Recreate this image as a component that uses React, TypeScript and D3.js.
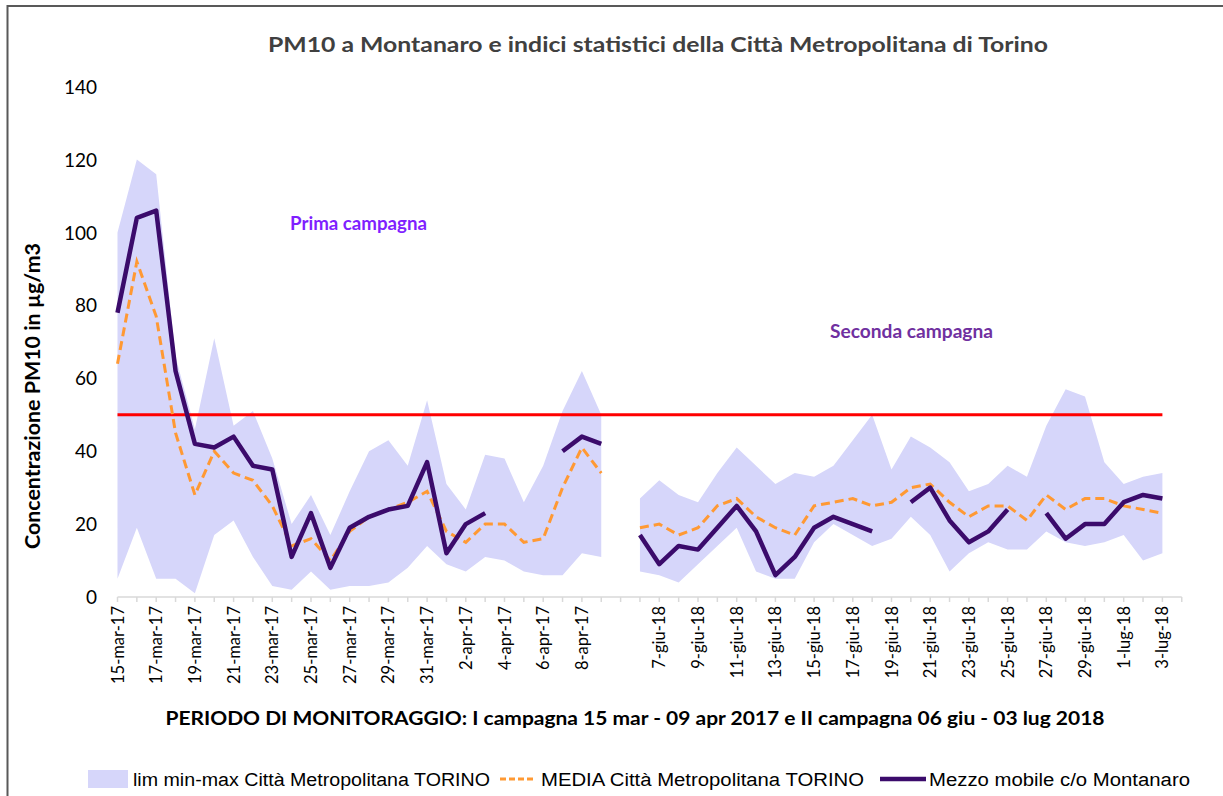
import React, { useEffect, useRef } from "react";
import * as d3 from "d3";

// categories: I campagna (15 mar - 9 apr 2017), empty slot, II campagna (6 giu - 3 lug 2018)
const categories = [
  "15-mar-17", "16-mar-17", "17-mar-17", "18-mar-17", "19-mar-17", "20-mar-17", "21-mar-17",
  "22-mar-17", "23-mar-17", "24-mar-17", "25-mar-17", "26-mar-17", "27-mar-17", "28-mar-17",
  "29-mar-17", "30-mar-17", "31-mar-17", "1-apr-17", "2-apr-17", "3-apr-17", "4-apr-17",
  "5-apr-17", "6-apr-17", "7-apr-17", "8-apr-17", "9-apr-17",
  "",
  "6-giu-18", "7-giu-18", "8-giu-18", "9-giu-18", "10-giu-18", "11-giu-18", "12-giu-18",
  "13-giu-18", "14-giu-18", "15-giu-18", "16-giu-18", "17-giu-18", "18-giu-18", "19-giu-18",
  "20-giu-18", "21-giu-18", "22-giu-18", "23-giu-18", "24-giu-18", "25-giu-18", "26-giu-18",
  "27-giu-18", "28-giu-18", "29-giu-18", "30-giu-18", "1-lug-18", "2-lug-18", "3-lug-18",
];

// lim min-max Città Metropolitana TORINO
const maxTorino = [
  100, 120, 116, 66, 46, 71, 47, 51, 38, 20, 28, 17, 29, 40, 43, 36, 54, 31, 24, 39, 38, 26, 36, 51, 62, 50,
  null,
  27, 32, 28, 26, 34, 41, 36, 31, 34, 33, 36, 43, 50, 35, 44, 41, 37, 29, 31, 36, 33, 47, 57, 55, 37, 31, 33, 34,
];
const minTorino = [
  5, 19, 5, 5, 1, 17, 21, 11, 3, 2, 7, 2, 3, 3, 4, 8, 14, 9, 7, 11, 10, 7, 6, 6, 12, 11,
  null,
  7, 6, 4, 9, 14, 19, 7, 5, 5, 15, 20, 17, 14, 16, 22, 17, 7, 12, 15, 13, 13, 18, 15, 14, 15, 17, 10, 12,
];
// MEDIA Città Metropolitana TORINO
const mediaTorino = [
  64, 92, 77, 45, 28, 40, 34, 32, 25, 14, 16, 10, 18, 22, 24, 26, 29, 18, 15, 20, 20, 15, 16, 30, 41, 34,
  null,
  19, 20, 17, 19, 25, 27, 22, 19, 17, 25, 26, 27, 25, 26, 30, 31, 26, 22, 25, 25, 21, 28, 24, 27, 27, 25, 24, 23,
];
// Mezzo mobile c/o Montanaro
const montanaro = [
  78, 104, 106, 62, 42, 41, 44, 36, 35, 11, 23, 8, 19, 22, 24, 25, 37, 12, 20, 23, null, null, null, 40, 44, 42,
  null,
  17, 9, 14, 13, 19, 25, 18, 6, 11, 19, 22, 20, 18, null, 26, 30, 21, 15, 18, 24, null, 23, 16, 20, 20, 26, 28, 27,
];

const LIMIT = 50;
const yTicks = [0, 20, 40, 60, 80, 100, 120, 140];

const W = 1223;
const H = 796;
const FONT = "Lato, 'Open Sans', sans-serif";

const App = () => {
  const svgRef = useRef(null);

  useEffect(() => {
    const svg = d3.select(svgRef.current);
    svg.selectAll("*").remove();

    const idx = d3.range(categories.length);
    const x = d3.scalePoint().domain(idx).range([117.5, 1162.4]);
    const y = d3.scaleLinear().domain([0, 140]).range([597, 86.7]);
    const step = x.step();

    // frame
    svg.append("path")
      .attr("d", `M7.5,${H} V6 H${W}`)
      .attr("fill", "none")
      .attr("stroke", "#595959")
      .attr("stroke-width", 2);

    // title
    svg.append("text")
      .attr("x", 658).attr("y", 52)
      .attr("text-anchor", "middle")
      .attr("font-family", FONT).attr("font-weight", "bold").attr("font-size", 20.5)
      .attr("fill", "#404040")
      .attr("textLength", 780).attr("lengthAdjust", "spacingAndGlyphs")
      .text("PM10 a Montanaro e indici statistici della Città Metropolitana di Torino");

    // band min-max
    const area = d3.area()
      .defined(i => maxTorino[i] != null)
      .x(i => x(i))
      .y0(i => y(minTorino[i]))
      .y1(i => y(maxTorino[i]));
    svg.append("path")
      .attr("d", area(idx))
      .attr("fill", "#D6D6FA");

    // limit line
    const limitLine = d3.line().x(i => x(i)).y(() => y(LIMIT));
    svg.append("path")
      .attr("d", limitLine(idx))
      .attr("fill", "none")
      .attr("stroke", "#FF0000")
      .attr("stroke-width", 3);

    // media
    const mediaLine = d3.line()
      .defined(i => mediaTorino[i] != null)
      .x(i => x(i))
      .y(i => y(mediaTorino[i]));
    svg.append("path")
      .attr("d", mediaLine(idx))
      .attr("fill", "none")
      .attr("stroke", "#FF9933")
      .attr("stroke-width", 3)
      .attr("stroke-dasharray", "9,5");

    // montanaro
    const montLine = d3.line()
      .defined(i => montanaro[i] != null)
      .x(i => x(i))
      .y(i => y(montanaro[i]));
    svg.append("path")
      .attr("d", montLine(idx))
      .attr("fill", "none")
      .attr("stroke", "#3B0B6B")
      .attr("stroke-width", 4.5)
      .attr("stroke-linejoin", "round");

    // x axis
    const x0 = x(0);
    const x1 = x(categories.length - 1) + step;
    svg.append("line")
      .attr("x1", x0).attr("x2", x1)
      .attr("y1", 597).attr("y2", 597)
      .attr("stroke", "#D9D9D9").attr("stroke-width", 1.5);
    svg.selectAll(".tick")
      .data(d3.range(categories.length + 1))
      .enter()
      .append("line")
      .attr("x1", k => x0 + k * step).attr("x2", k => x0 + k * step)
      .attr("y1", 597).attr("y2", 602)
      .attr("stroke", "#D9D9D9").attr("stroke-width", 1.5);

    svg.selectAll(".xlab")
      .data(idx.filter(i => i % 2 === 0))
      .enter()
      .append("text")
      .attr("transform", i => `translate(${x(i) + 6},606) rotate(-90)`)
      .attr("text-anchor", "end")
      .attr("font-family", FONT).attr("font-size", 16.5)
      .attr("fill", "#000")
      .text(i => categories[i]);

    // y labels
    svg.selectAll(".ylab")
      .data(yTicks)
      .enter()
      .append("text")
      .attr("x", 97).attr("y", v => y(v) + 7)
      .attr("text-anchor", "end")
      .attr("font-family", FONT).attr("font-size", 19)
      .attr("fill", "#000")
      .text(v => v);

    svg.append("text")
      .attr("transform", "translate(40,396) rotate(-90)")
      .attr("text-anchor", "middle")
      .attr("font-family", FONT).attr("font-weight", "bold").attr("font-size", 20)
      .attr("fill", "#000")
      .attr("textLength", 306).attr("lengthAdjust", "spacingAndGlyphs")
      .text("Concentrazione PM10 in µg/m3");

    svg.append("text")
      .attr("x", 635).attr("y", 725)
      .attr("text-anchor", "middle")
      .attr("font-family", FONT).attr("font-weight", "bold").attr("font-size", 18.5)
      .attr("fill", "#000")
      .attr("textLength", 939).attr("lengthAdjust", "spacingAndGlyphs")
      .text("PERIODO DI MONITORAGGIO: I campagna 15 mar - 09 apr 2017 e II campagna 06 giu - 03 lug 2018");

    // campaign notes
    svg.append("text")
      .attr("x", 290).attr("y", 230)
      .attr("font-family", FONT).attr("font-weight", "bold").attr("font-size", 18)
      .attr("fill", "#7F1FFF")
      .attr("textLength", 137).attr("lengthAdjust", "spacingAndGlyphs")
      .text("Prima campagna");
    svg.append("text")
      .attr("x", 830).attr("y", 338)
      .attr("font-family", FONT).attr("font-weight", "bold").attr("font-size", 18)
      .attr("fill", "#7030A0")
      .attr("textLength", 163).attr("lengthAdjust", "spacingAndGlyphs")
      .text("Seconda campagna");

    // legend
    const ly = 779;
    const leg = svg.append("g").attr("font-family", "'Liberation Sans Narrow', 'Liberation Sans', sans-serif")
      .attr("font-size", 18).attr("fill", "#000");
    leg.append("rect").attr("x", 88).attr("y", ly - 9).attr("width", 40).attr("height", 18).attr("fill", "#D6D6FA");
    leg.append("text").attr("x", 133).attr("y", ly + 6.5)
      .attr("textLength", 357).attr("lengthAdjust", "spacingAndGlyphs")
      .text("lim min-max Città Metropolitana TORINO");
    leg.append("line").attr("x1", 500).attr("x2", 536).attr("y1", ly).attr("y2", ly)
      .attr("stroke", "#FF9933").attr("stroke-width", 3).attr("stroke-dasharray", "6,3");
    leg.append("text").attr("x", 541).attr("y", ly + 6.5)
      .attr("textLength", 323).attr("lengthAdjust", "spacingAndGlyphs")
      .text("MEDIA Città Metropolitana TORINO");
    leg.append("line").attr("x1", 880).attr("x2", 926).attr("y1", ly).attr("y2", ly)
      .attr("stroke", "#3B0B6B").attr("stroke-width", 4.5);
    leg.append("text").attr("x", 929).attr("y", ly + 6.5)
      .attr("textLength", 261).attr("lengthAdjust", "spacingAndGlyphs")
      .text("Mezzo mobile c/o Montanaro");
  }, []);

  return (
    <div style={{ position: "fixed", left: 0, top: 0, width: W, height: H, background: "#fff" }}>
      <svg ref={svgRef} width={W} height={H} style={{ display: "block" }} />
    </div>
  );
};

export default App;
